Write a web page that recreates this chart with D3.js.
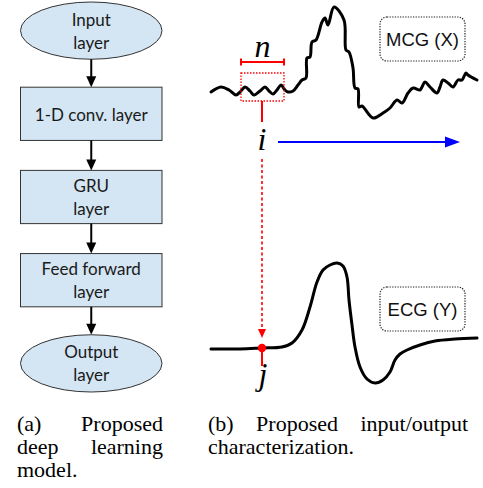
<!DOCTYPE html>
<html><head><meta charset="utf-8">
<script src="https://cdn.jsdelivr.net/npm/d3@7"></script>
<style>body{margin:0;background:#fff}svg{display:block}</style>
</head><body>
<script>
// ---- data ----
const flowLabels = [["Input","layer"],["1-D conv. layer"],["GRU","layer"],["Feed forward","layer"],["Output","layer"]];
const flowShapes = ["ellipse","rect","rect","rect","ellipse"];

const mcgT = [0,10,18,25,30,34,39,43,49,54,58,62,66,70,74,77,82,87,91,95,96,99,101,105,111,114,117,123,133,135,138,142,144,147,148,151,162,172,179,186,191,197,202,209,211,214,219,226,229,232,237,242,247,251,255,257,266];
const mcgV = [0,5,2,-3,1,5,1,-3,1,5,1,-2,2,7,2,0,1,7,12,14,34,35,50,52,70,74,67,85,72,42,40,24,4,3,-15,-14,-26,-21,-16,-8,-11,-1,4,2,5,10,5,-1,5,12,9,5,12,12,19,17,12];

const ecgT = [0,29,51,71,81,91,99,106,112,119,126,132,136,138,141,144,149,156,164,172,179,184,189,196,209,224,244,266];
const ecgV = [0,0,1,2,6,19,42,67,79,84,86,83,72,49,24,2,-18,-30,-34,-31,-23,-11,-5,-1,4,8,10,11];

const windowStart = 30, windowEnd = 73, sampleI = 51;
const signalLabels = ["MCG (X)","ECG (Y)"];
const captionA = [["(a)","Proposed"],["deep","learning"],["model."]];
const captionB = [["(b)","Proposed","input/output"],["characterization."]];

// ---- drawing ----
const W = 483, H = 488;
const svg = d3.select("body").append("svg").attr("width",W).attr("height",H);

// flowchart
const fy = d3.scaleBand().domain(d3.range(flowLabels.length)).range([4, 390]).paddingInner(0.36).paddingOuter(0);
const fx0 = 20.5, fx1 = 162;
const fcx = (fx0+fx1)/2;
const fill = "#d4e5f3";
const flowG = svg.append("g");
flowLabels.forEach((lab,k)=>{
  const y0 = fy(k), h = fy.bandwidth(), cy = y0 + h/2;
  const isEl = flowShapes[k]==="ellipse";
  if (isEl) {
    flowG.append("ellipse").attr("cx",fcx).attr("cy",cy).attr("rx",(fx1-fx0)/2).attr("ry",h/2+2)
      .attr("fill",fill).attr("stroke","#333").attr("stroke-width",1);
  } else {
    flowG.append("rect").attr("x",fx0).attr("y",y0).attr("width",fx1-fx0).attr("height",h)
      .attr("fill",fill).attr("stroke","#333").attr("stroke-width",1);
  }
  const t = flowG.append("text").attr("text-anchor","middle").attr("font-family","Lato, 'Open Sans', sans-serif")
    .attr("font-size",17).attr("fill","#1a1a1a");
  if (lab.length===1) {
    t.append("tspan").attr("x",fcx).attr("y",cy+7).text(lab[0]);
  } else {
    t.append("tspan").attr("x",fcx).attr("y",cy-5).text(lab[0]);
    t.append("tspan").attr("x",fcx).attr("y",cy+18).text(lab[1]);
  }
  if (k < flowLabels.length-1) {
    const ya = y0 + h + (isEl?2:0);
    const yb = fy(k+1) - (flowShapes[k+1]==="ellipse"?2:0);
    flowG.append("line").attr("x1",fcx).attr("x2",fcx).attr("y1",ya).attr("y2",yb-9)
      .attr("stroke","#000").attr("stroke-width",2);
    flowG.append("path").attr("d",`M${fcx-5},${yb-11}L${fcx+5},${yb-11}L${fcx},${yb}Z`).attr("fill","#000");
  }
});

// signals
const x = d3.scaleLinear().domain([0,266]).range([211,477]);
const yM = d3.scaleLinear().domain([0,85]).range([92,7]);
const yE = d3.scaleLinear().domain([0,86]).range([349,263]);

const lineM = d3.line().x((d,i)=>x(mcgT[i])).y((d,i)=>yM(mcgV[i])).curve(d3.curveCatmullRom.alpha(0.5));
const lineE = d3.line().x((d,i)=>x(ecgT[i])).y((d,i)=>yE(ecgV[i])).curve(d3.curveCatmullRom.alpha(0.5));
svg.append("path").attr("d",lineM(mcgV)).attr("fill","none").attr("stroke","#000").attr("stroke-width",3)
  .attr("stroke-linejoin","round").attr("stroke-linecap","round");
svg.append("path").attr("d",lineE(ecgV)).attr("fill","none").attr("stroke","#000").attr("stroke-width",3)
  .attr("stroke-linejoin","round").attr("stroke-linecap","round");

// red window
const red = "#ff0000";
const wx0 = x(windowStart), wx1 = x(windowEnd), xi = x(sampleI);
svg.append("rect").attr("x",wx0).attr("y",73).attr("width",wx1-wx0).attr("height",28)
  .attr("fill","none").attr("stroke",red).attr("stroke-width",1.3).attr("stroke-dasharray","1.5,1.5");
svg.append("line").attr("x1",wx0).attr("x2",wx1).attr("y1",62).attr("y2",62).attr("stroke",red).attr("stroke-width",2);
[wx0,wx1].forEach(xx=>svg.append("line").attr("x1",xx).attr("x2",xx).attr("y1",58.5).attr("y2",65.5).attr("stroke",red).attr("stroke-width",2));
svg.append("text").attr("x",(wx0+wx1)/2).attr("y",57).attr("text-anchor","middle")
  .attr("font-family","'Liberation Serif', 'DejaVu Serif', serif").attr("font-style","italic").attr("font-size",32).text("n");

svg.append("line").attr("x1",xi).attr("x2",xi).attr("y1",101).attr("y2",122).attr("stroke",red).attr("stroke-width",2);
svg.append("text").attr("x",xi).attr("y",150).attr("text-anchor","middle")
  .attr("font-family","'Liberation Serif', 'DejaVu Serif', serif").attr("font-style","italic").attr("font-size",32).text("i");
svg.append("line").attr("x1",xi).attr("x2",xi).attr("y1",159).attr("y2",330).attr("stroke",red).attr("stroke-width",1.6)
  .attr("stroke-dasharray","3,2.5");
svg.append("path").attr("d",`M${xi-4},${329}L${xi+4},${329}L${xi},${338}Z`).attr("fill",red);
svg.append("line").attr("x1",xi).attr("x2",xi).attr("y1",349).attr("y2",366).attr("stroke",red).attr("stroke-width",2);
svg.append("circle").attr("cx",xi).attr("cy",yE(ecgV[2])).attr("r",4.2).attr("fill",red);
svg.append("text").attr("x",xi+1).attr("y",385).attr("text-anchor","middle")
  .attr("font-family","'Liberation Serif', 'DejaVu Serif', serif").attr("font-style","italic").attr("font-size",32).text("j");

// blue arrow
const blue = "#0000ff";
svg.append("line").attr("x1",278).attr("x2",447).attr("y1",142).attr("y2",142).attr("stroke",blue).attr("stroke-width",2);
svg.append("path").attr("d","M445,136.5L460,142L445,147.5Z").attr("fill",blue);

// labels boxes
[[17,signalLabels[0]],[287,signalLabels[1]]].forEach(([by,lab])=>{
  svg.append("rect").attr("x",380).attr("y",by).attr("width",85).attr("height",44).attr("rx",7)
    .attr("fill","none").attr("stroke","#222").attr("stroke-width",1.2).attr("stroke-dasharray","1.3,1.3");
  svg.append("text").attr("x",422.5).attr("y",by+29).attr("text-anchor","middle")
    .attr("font-family","'Liberation Sans', Arial, sans-serif").attr("font-size",18.5).attr("fill","#111").text(lab);
});

// captions (justified)
const capFont = "'Liberation Serif', 'Times New Roman', serif";
function capLine(words, x0, x1, y, justify) {
  const nodes = words.map(w=>svg.append("text").attr("y",y).attr("font-family",capFont).attr("font-size",22).attr("fill","#000").text(w));
  const widths = nodes.map(n=>n.node().getComputedTextLength());
  if (!justify || words.length===1) {
    let cx = x0; const sp = 5.5;
    nodes.forEach((n,k)=>{n.attr("x",cx); cx += widths[k]+sp;});
    return;
  }
  const gap = (x1-x0-d3.sum(widths))/(words.length-1);
  let cx = x0;
  nodes.forEach((n,k)=>{n.attr("x",cx); cx += widths[k]+gap;});
}
const capY = [430.5, 454, 477];
captionA.forEach((ws,k)=>capLine(ws,17,163,capY[k],k<captionA.length-1));
captionB.forEach((ws,k)=>capLine(ws,208,468,capY[k],k<captionB.length-1));
</script>
</body></html>
